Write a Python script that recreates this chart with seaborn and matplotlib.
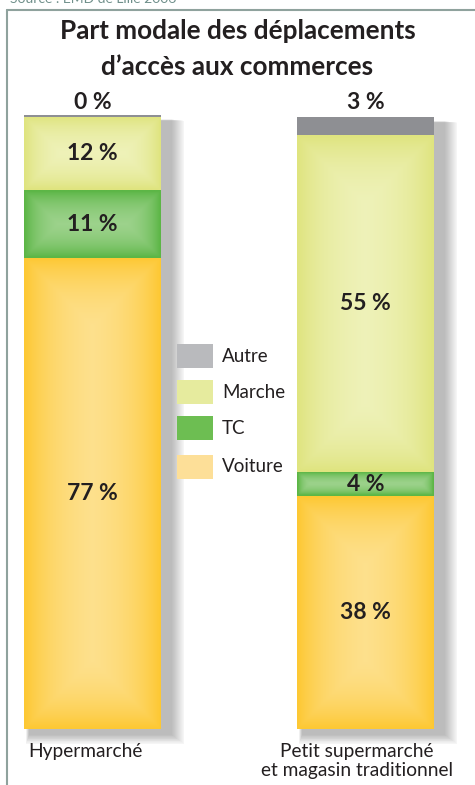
import numpy as np
import pandas as pd
import matplotlib
matplotlib.use("Agg")
import matplotlib.pyplot as plt
import seaborn as sns
from matplotlib.patches import Rectangle
from matplotlib.lines import Line2D
from matplotlib.colors import to_rgb

# ---- data ----
categories = ["Hypermarché", "Petit supermarché\net magasin traditionnel"]
modes = ["Voiture", "TC", "Marche", "Autre"]          # bottom -> top
voiture = [77, 38]
tc = [11, 4]
marche = [12, 55]
autre = [0.3, 3]
title = "Part modale des déplacements\nd’accès aux commerces"
source = "Source : EMD de Lille 2006"

values = {"Voiture": voiture, "TC": tc, "Marche": marche, "Autre": autre}
edge_col = {"Voiture": "#fdc833", "TC": "#5cb646", "Marche": "#dfe47f", "Autre": "#8e8f93"}
center_col = {"Voiture": "#fee6a2", "TC": "#acd99c", "Marche": "#f2f5c6", "Autre": "#97989c"}
legend_col = {"Autre": "#b9babd", "Marche": "#e6eb9e", "TC": "#6dbe52", "Voiture": "#fddf98"}

W, H = 475, 785
fig = plt.figure(figsize=(W / 100, H / 100), dpi=100)
sns.set_style("white")
plt.rcParams["font.family"] = ["Lato", "DejaVu Sans"]
ax = fig.add_axes([0, 0, 1, 1])

# pixel mapping
x0px, x1px = 92.5, 365.5
kx = x1px - x0px                    # px per category unit
y0px, y100px = 729, 117
ky = (y0px - y100px) / 100          # px per percent
xlim = (-x0px / kx, 1 + (W - x1px) / kx)
ylim = (-(H - y0px) / ky, 100 + y100px / ky)
bar_w = 137 / kx

df = pd.DataFrame({"cat": categories, **values})
lower = {}
acc = np.zeros(len(categories))
for m in modes:
    lower[m] = acc.copy()
    acc = acc + np.array(values[m])
totals = acc

# shadows behind the bars
for i in range(len(categories)):
    for s in range(14):
        g = s * 1.2
        ax.add_patch(Rectangle((i - bar_w / 2 + (5 - g * 0.2) / kx, -(6 + g * 0.6) / ky),
                               bar_w + (6 + g) / kx, totals[i] + (2 + g * 0.5) / ky,
                               facecolor="#000000", alpha=0.02, lw=0, zorder=0.5))

# stacked bars via seaborn
seg_patches = {}
for m in modes[::-1]:
    n0 = len(ax.patches)
    sns.barplot(data=df, x="cat", y=m, color=edge_col[m], width=bar_w,
                saturation=1, ax=ax, linewidth=0, zorder=2)
    new = ax.patches[n0:]
    for i, p in enumerate(new):
        p.set_y(lower[m][i])
        p.set_height(values[m][i])
    seg_patches[m] = new


def glow(patch, c_edge, c_center):
    x, y = patch.get_x(), patch.get_y()
    w, h = patch.get_width(), patch.get_height()
    if h <= 0:
        return
    wpx, hpx = w * kx, h * ky
    k = max(3.0, min(wpx, hpx) * 0.3)
    nx, ny = 80, max(2, int(hpx / 2))
    X, Y = np.meshgrid(np.linspace(0, wpx, nx), np.linspace(0, hpx, ny))
    d = np.minimum(np.minimum(X, wpx - X), np.minimum(Y, hpx - Y))
    g = 1 - np.exp(-d / k)
    ce, cc = np.array(to_rgb(c_edge)), np.array(to_rgb(c_center))
    img = ce + (cc - ce) * g[..., None]
    im = ax.imshow(img, extent=[x, x + w, y, y + h], origin="lower",
                   aspect="auto", zorder=2.1, interpolation="bilinear")
    im.set_clip_path(patch)


for m in modes:
    if m == "Autre":
        continue
    for p in seg_patches[m]:
        glow(p, edge_col[m], center_col[m])

# value labels
for m in modes:
    for i in range(len(categories)):
        v = values[m][i]
        txt = f"{v:.0f} %"
        if m == "Autre":
            ax.text(i, 102.4, txt, ha="center", va="center", fontsize=16.5,
                    fontweight="bold", color="#231f20", zorder=5)
        else:
            ax.text(i, lower[m][i] + v / 2, txt, ha="center", va="center",
                    fontsize=16.5, fontweight="bold", color="#231f20", zorder=5)

# category labels
ax.text((28 - x0px) / kx, ylim[0] + (H - 752) / ky, categories[0], ha="left",
        va="center", fontsize=13.8, color="#231f20")
ax.text((357 - x0px) / kx, ylim[0] + (H - 761) / ky, categories[1], ha="center",
        va="center", fontsize=13.8, color="#231f20", linespacing=1.15)

ax.set_xlim(*xlim)
ax.set_ylim(*ylim)
ax.axis("off")

# manual legend
leg_y = {"Autre": 356, "Marche": 392, "TC": 428, "Voiture": 467}
for m in ["Autre", "Marche", "TC", "Voiture"]:
    yc = leg_y[m]
    fig.add_artist(Rectangle((177 / W, 1 - (yc + 12) / H), 36 / W, 24 / H,
                             facecolor=legend_col[m], lw=0, transform=fig.transFigure))
    fig.text(222 / W, 1 - yc / H, m, ha="left", va="center", fontsize=13.5,
             color="#231f20")

# title
fig.text(0.5, 1 - 49 / H, title, ha="center", va="center", fontsize=18.8,
         fontweight="bold", color="#231f20", linespacing=1.6)

# frame & cut source line
fc = "#8fa29d"
fig.add_artist(Line2D([7 / W, 7 / W], [0, 1 - 10 / H], color=fc, lw=1.5,
                      transform=fig.transFigure))
fig.add_artist(Line2D([7 / W, 1], [1 - 10 / H, 1 - 10 / H], color=fc, lw=1.5,
                      transform=fig.transFigure))
fig.text(10 / W, 1 - 3 / H, source, ha="left", va="baseline", fontsize=10,
         color="#6f8f8a")

fig.savefig("out.png", dpi=100)
